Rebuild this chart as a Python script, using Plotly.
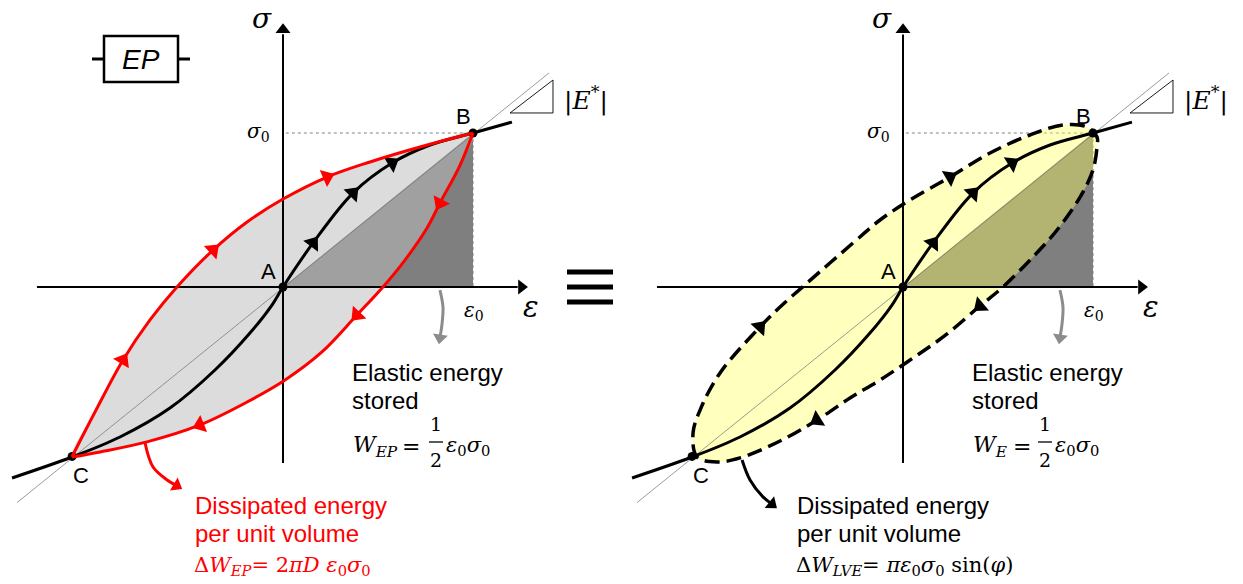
import math
import plotly.graph_objects as go

# ---------------- page / scale ----------------
W, H = 1243, 584
PX_PER_EPS = 190.0   # pixels per eps0
PX_PER_SIG = 154.0   # pixels per sigma0

SANS = "Liberation Sans, Arial, sans-serif"
SERIF = "DejaVu Serif, Liberation Serif, serif"

# ---------------- data (normalised: eps/eps0 , sigma/sigma0) ----------------
point_eps = [0.0, 1.0, -1.11]          # A, B, C
point_sig = [0.0, 1.0, -1.10]
point_names = ["A", "B", "C"]

# elasto-plastic loop (left)
ep_load_eps = [-1.111, -0.984, -0.842, -0.700, -0.558, -0.368, -0.189, 0.0, 0.232, 0.458, 0.721, 1.0]
ep_load_sig = [-1.104, -0.799, -0.474, -0.214, 0.0, 0.240, 0.422, 0.571, 0.714, 0.812, 0.909, 1.0]
ep_unload_eps = [1.0, 0.932, 0.826, 0.758, 0.642, 0.526, 0.389, 0.205, 0.011, -0.189, -0.437, -0.716, -0.963, -1.111]
ep_unload_sig = [1.0, 0.792, 0.545, 0.383, 0.175, 0.0, -0.182, -0.422, -0.604, -0.747, -0.896, -1.006, -1.071, -1.104]

# backbone (virgin) curve, both panels
backbone_eps = [-1.426, -1.111, -0.858, -0.595, -0.358, -0.174, -0.058, 0.0, 0.158, 0.368, 0.574, 0.774, 1.0, 1.205]
backbone_sig = [-1.240, -1.104, -0.974, -0.786, -0.539, -0.299, -0.117, 0.0, 0.286, 0.610, 0.805, 0.922, 1.0, 1.071]

# linear visco-elastic ellipse (right)
lve_eps = [0.037, 0.247, 0.458, 0.668, 0.842, 0.968, 1.021, 1.021, 1.0, 0.932, 0.811, 0.684, 0.526,
           0.405, 0.232, 0.053, -0.121, -0.279, -0.453, -0.647, -0.858, -0.979, -1.084, -1.105,
           -1.068, -0.963, -0.753, -0.647, -0.505, -0.263, -0.121, 0.037]
lve_sig = [0.565, 0.714, 0.870, 0.987, 1.052, 1.039, 0.974, 0.909, 0.760, 0.584, 0.370, 0.195, 0.0,
           -0.123, -0.305, -0.461, -0.604, -0.721, -0.864, -1.0, -1.110, -1.136, -1.104, -0.948,
           -0.799, -0.558, -0.260, -0.130, 0.026, 0.286, 0.435, 0.565]

# direction arrows (positions on the curves)
ep_load_arrows = [(-0.842, -0.474), (-0.368, 0.240), (0.232, 0.714)]
ep_unload_arrows = [(0.826, 0.545), (0.389, -0.182), (-0.437, -0.896)]
backbone_arrows = [(0.158, 0.286), (0.368, 0.610), (0.574, 0.805)]
lve_arrows = [(-0.753, -0.260), (0.247, 0.714), (0.405, -0.123), (-0.453, -0.864)]

# stored elastic energy triangle A - B - (eps0, 0)
tri_eps = [0.0, 1.0, 1.0, 0.0]
tri_sig = [0.0, 1.0, 0.0, 0.0]

# secant-modulus reference line and slope triangle
secant_eps = [-1.40, 1.40]
secant_sig = [-1.40, 1.39]
slope_eps = [1.195, 1.421, 1.421, 1.195]
slope_sig = [1.13, 1.13, 1.344, 1.13]

# axes extents
h_axis_eps = [-1.295, 1.235]
v_axis_sig = [-1.143, 1.64]

# call-out arrows
gray_arrow_eps = [0.826, 0.842, 0.837, 0.826]
gray_arrow_sig = [-0.02, -0.13, -0.24, -0.33]
red_arrow_eps = [-0.726, -0.684, -0.61, -0.56]
red_arrow_sig = [-1.013, -1.169, -1.253, -1.29]
black_arrow_eps = [-0.847, -0.805, -0.737, -0.69]
black_arrow_sig = [-1.123, -1.253, -1.363, -1.41]

# ---------------- figure ----------------
fig = go.Figure()

L_DOM = [0, 620 / W]
R_DOM = [620 / W, 1]
y_rng = [(287 - 584) / PX_PER_SIG, 287 / PX_PER_SIG]
fig.update_layout(
    width=W, height=H, margin=dict(l=0, r=0, t=0, b=0),
    paper_bgcolor="white", plot_bgcolor="white", showlegend=False,
    xaxis=dict(domain=L_DOM, range=[-283 / PX_PER_EPS, (620 - 283) / PX_PER_EPS], visible=False, fixedrange=True),
    xaxis2=dict(domain=R_DOM, range=[(620 - 903) / PX_PER_EPS, (1243 - 903) / PX_PER_EPS], visible=False, fixedrange=True),
    yaxis=dict(domain=[0, 1], range=y_rng, visible=False, fixedrange=True),
    yaxis2=dict(domain=[0, 1], range=y_rng, visible=False, fixedrange=True, anchor="x2"),
)


def line(xa, ya, xs, ys, color="black", width=2, dash="solid", shape="linear", fill=None, fillcolor=None):
    fig.add_trace(go.Scatter(x=xs, y=ys, xaxis=xa, yaxis=ya, mode="lines", hoverinfo="skip",
                             line=dict(color=color, width=width, dash=dash, shape=shape, smoothing=1.0),
                             fill=fill, fillcolor=fillcolor))


def screen_angle(dx, dy):
    return math.degrees(math.atan2(dx * PX_PER_EPS, dy * PX_PER_SIG))


def arrows_on(xa, ya, cx, cy, pts, color, size=16):
    xs, ys, angs = [], [], []
    for (px, py) in pts:
        i = min(range(len(cx)), key=lambda k: (cx[k] - px) ** 2 + (cy[k] - py) ** 2)
        i0, i1 = max(i - 1, 0), min(i + 1, len(cx) - 1)
        angs.append(screen_angle(cx[i1] - cx[i0], cy[i1] - cy[i0]))
        xs.append(px)
        ys.append(py)
    fig.add_trace(go.Scatter(x=xs, y=ys, xaxis=xa, yaxis=ya, mode="markers", hoverinfo="skip",
                             marker=dict(symbol="triangle-up", size=size, color=color, angle=angs,
                                         line=dict(width=0))))


def head(xa, ya, cx, cy, color, size=13):
    ang = screen_angle(cx[-1] - cx[-2], cy[-1] - cy[-2])
    fig.add_trace(go.Scatter(x=[cx[-1]], y=[cy[-1]], xaxis=xa, yaxis=ya, mode="markers", hoverinfo="skip",
                             marker=dict(symbol="triangle-up", size=size, color=color, angle=[ang],
                                         line=dict(width=0))))


def axes(xa, ya):
    line(xa, ya, h_axis_eps, [0, 0], width=2)
    line(xa, ya, [0, 0], v_axis_sig, width=2)
    fig.add_trace(go.Scatter(x=[h_axis_eps[1] + 0.02, 0], y=[0, v_axis_sig[1] + 0.03], xaxis=xa, yaxis=ya,
                             mode="markers", hoverinfo="skip",
                             marker=dict(symbol="triangle-up", size=13, color="black", angle=[90, 0])))


def common(xa, ya):
    line(xa, ya, [0.015, 1.0], [1.0, 1.0], color="#808080", width=1, dash="dot")
    line(xa, ya, [1.0, 1.0], [1.0, 0.0], color="#808080", width=1, dash="dot")


def overlay(xa, ya):
    line(xa, ya, secant_eps, secant_sig, color="#707070", width=0.7)
    line(xa, ya, slope_eps, slope_sig, color="black", width=0.9)
    line(xa, ya, backbone_eps, backbone_sig, color="black", width=3, shape="spline")
    arrows_on(xa, ya, backbone_eps, backbone_sig, backbone_arrows, "black")
    fig.add_trace(go.Scatter(x=point_eps, y=point_sig, xaxis=xa, yaxis=ya, mode="markers", hoverinfo="skip",
                             marker=dict(size=9, color="black")))


# ---- left panel (EP) ----
line("x", "y", [0, 0], v_axis_sig, width=2)
common("x", "y")
line("x", "y", tri_eps, tri_sig, color="#7f7f7f", width=0, fill="toself", fillcolor="#7f7f7f")
loop_eps = ep_load_eps + ep_unload_eps[1:]
loop_sig = ep_load_sig + ep_unload_sig[1:]
line("x", "y", loop_eps, loop_sig, color="rgba(0,0,0,0)", width=0, shape="spline",
     fill="toself", fillcolor="rgba(188,188,188,0.53)")
axes("x", "y")
overlay("x", "y")
line("x", "y", ep_load_eps, ep_load_sig, color="#ff0000", width=3, shape="spline")
line("x", "y", ep_unload_eps, ep_unload_sig, color="#ff0000", width=3, shape="spline")
arrows_on("x", "y", ep_load_eps, ep_load_sig, ep_load_arrows, "#ff0000")
arrows_on("x", "y", ep_unload_eps, ep_unload_sig, ep_unload_arrows, "#ff0000")
line("x", "y", gray_arrow_eps, gray_arrow_sig, color="#8c8c8c", width=3, shape="spline")
head("x", "y", gray_arrow_eps, gray_arrow_sig, "#8c8c8c")
line("x", "y", red_arrow_eps, red_arrow_sig, color="#ff0000", width=3, shape="spline")
head("x", "y", red_arrow_eps, red_arrow_sig, "#ff0000")

# ---- right panel (LVE) ----
common("x2", "y2")
line("x2", "y2", tri_eps, tri_sig, color="#7f7f7f", width=0, fill="toself", fillcolor="#7f7f7f")
line("x2", "y2", lve_eps, lve_sig, color="rgba(0,0,0,0)", width=0, shape="spline",
     fill="toself", fillcolor="rgba(255,255,96,0.41)")
axes("x2", "y2")
overlay("x2", "y2")
line("x2", "y2", lve_eps, lve_sig, color="black", width=3.5, shape="spline", dash="15px,7px")
arrows_on("x2", "y2", lve_eps, lve_sig, lve_arrows, "black")
line("x2", "y2", gray_arrow_eps, gray_arrow_sig, color="#8c8c8c", width=3, shape="spline")
head("x2", "y2", gray_arrow_eps, gray_arrow_sig, "#8c8c8c")
line("x2", "y2", black_arrow_eps, black_arrow_sig, color="black", width=3, shape="spline")
head("x2", "y2", black_arrow_eps, black_arrow_sig, "black")


# ---------------- text & decorations (page pixel positions) ----------------
def P(px, py):
    return px / W, 1 - py / H


def txt(px, py, text, size, family=SANS, color="#000000", xanchor="left", yanchor="middle"):
    x, y = P(px, py)
    fig.add_annotation(x=x, y=y, xref="paper", yref="paper", text=text, showarrow=False,
                       font=dict(size=size, family=family, color=color), xanchor=xanchor, yanchor=yanchor)


def pshape(kind, x0, y0, x1, y1, width=2, color="black", fill=None):
    a, b = P(x0, y0)
    c, d = P(x1, y1)
    fig.add_shape(type=kind, xref="paper", yref="paper", x0=a, y0=b, x1=c, y1=d,
                  line=dict(color=color, width=width), fillcolor=fill)


for dx in (0, 620):
    txt(262 + dx, 18, "<i>σ</i>", 28, SERIF, xanchor="center")
    txt(272 + dx, 132, "<i>σ</i><sub>0</sub>", 20, SERIF, xanchor="right")
    txt(474 + dx, 311, "<i>ε</i><sub>0</sub>", 20, SERIF, xanchor="center")
    txt(531 + dx, 307, "<i>ε</i>", 29, SERIF, xanchor="center")
    txt(562 + dx, 99, "|<i>E</i><sup>*</sup>|", 25, SERIF)
    txt(268 + dx, 271, "A", 22, xanchor="center")
    txt(463 + dx, 117, "B", 22, xanchor="center")
    txt(81 + dx, 475, "C", 22, xanchor="center")
    txt(350 + dx, 372, "Elastic energy", 24)
    txt(350 + dx, 400, "stored", 24)

# stored-energy formulas (built piecewise)
for x_w, sub, x_eq, x_fr in ((351, "EP", 411, 436), (971, "E", 1022, 1045)):
    txt(x_w, 446, "<i>W</i><sub><i>" + sub + "</i></sub>", 22, SERIF)
    txt(x_eq, 446, "=", 22, SERIF, xanchor="center")
    txt(x_fr, 424, "1", 19, SERIF, xanchor="center")
    txt(x_fr, 460, "2", 19, SERIF, xanchor="center")
    pshape("line", x_fr - 7, 442, x_fr + 7, 442, width=1.3)
    txt(x_fr + 8, 446, "<i>ε</i><sub>0</sub><i>σ</i><sub>0</sub>", 21, SERIF)

# dissipated energy texts
RED = "#ff0000"
txt(193, 505, "Dissipated energy", 24, color=RED)
txt(193, 533, "per unit volume", 24, color=RED)
txt(192, 566, "Δ<i>W</i><sub><i>EP</i></sub>= 2<i>πD</i> <i>ε</i><sub>0</sub><i>σ</i><sub>0</sub>", 21, SERIF, color=RED)
txt(795, 505, "Dissipated energy", 24)
txt(795, 533, "per unit volume", 24)
txt(794, 566, "Δ<i>W</i><sub><i>LVE</i></sub>= <i>πε</i><sub>0</sub><i>σ</i><sub>0</sub> sin(<i>φ</i>)", 21, SERIF)

# EP element symbol
pshape("rect", 104, 36, 178, 82, width=2.5)
pshape("line", 92, 59, 104, 59, width=3)
pshape("line", 178, 59, 190, 59, width=3)
txt(141, 59, "<i>EP</i>", 28, xanchor="center")

# equivalence sign
for yy in (272, 287, 302):
    pshape("line", 567, yy, 613, yy, width=5)

fig.write_html("out.html")
